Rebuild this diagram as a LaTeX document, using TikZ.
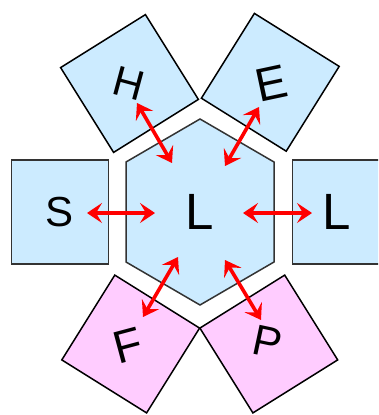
\documentclass[tikz,border=0pt]{standalone}
\usepackage{fontspec}
\setmainfont{Liberation Sans}
\usetikzlibrary{arrows.meta}
\definecolor{lblue}{HTML}{CCEBFF}
\definecolor{lpink}{HTML}{FFCCFF}
\begin{document}
\begin{tikzpicture}[x=1pt,y=-1pt,
  sq/.style={draw=black, line width=1.5pt, minimum width=100pt, minimum height=100pt, inner sep=0pt, outer sep=0pt},
  rb/.style={draw=black!80, line width=1.5pt, fill=lblue, minimum width=97pt, minimum height=104pt, inner sep=0pt, outer sep=0pt},
  lt/.style={inner sep=0pt, text=black},
  link/.style={draw=red, line width=3.6pt, {Stealth[length=15pt,width=20pt,inset=6pt]}-{Stealth[length=15pt,width=20pt,inset=6pt]}}
]
\useasboundingbox (0,0) rectangle (378,415);
\clip (0,0) rectangle (378,415);
% boxes
\node[sq, fill=lblue, rotate=32] (hbox) at (129.5,83.5) {};
\node[sq, fill=lblue, rotate=-32] (ebox) at (270.3,82.3) {};
\node[sq, fill=lpink, rotate=-32] (fbox) at (130.7,344) {};
\node[sq, fill=lpink, rotate=32] (pbox) at (268.8,344) {};
\node[rb] (sbox) at (59.8,212) {};
\node[rb] (rbox) at (341.2,212) {};
% hexagon
\coordinate (h1) at (200,119);
\coordinate (h2) at (274,162);
\coordinate (h3) at (274,262);
\coordinate (h4) at (200,305);
\coordinate (h5) at (126,262);
\coordinate (h6) at (126,162);
\draw[draw=black!80, line width=1.5pt, fill=lblue] (h1) -- (h2) -- (h3) -- (h4) -- (h5) -- (h6) -- cycle;
% letters
\node[lt, rotate=-15, font=\fontsize{42}{46}\selectfont] (th) at (129,83) {H};
\node[lt, rotate=12, font=\fontsize{47}{51}\selectfont] (te) at (271,83) {E};
\node[lt, font=\fontsize{42}{46}\selectfont] (ts) at (60,212) {S};
\node[lt, font=\fontsize{51}{55}\selectfont] (tl) at (200,212) {L};
\node[lt, font=\fontsize{51}{55}\selectfont] (tr) at (337,212) {L};
\node[lt, rotate=15, font=\fontsize{46}{50}\selectfont] (tf) at (128,346) {F};
\node[lt, rotate=-12, font=\fontsize{43}{47}\selectfont] (tp) at (268,342) {P};
% arrow ends
\coordinate (ah1) at (137,103); \coordinate (ah2) at (172,163);
\coordinate (ae1) at (259,107); \coordinate (ae2) at (225,166);
\coordinate (as1) at (87,213);  \coordinate (as2) at (155,213);
\coordinate (ar1) at (243,213); \coordinate (ar2) at (312,213);
\coordinate (af1) at (178,257); \coordinate (af2) at (143,317);
\coordinate (ap1) at (225,260); \coordinate (ap2) at (261,320);
\draw[link] (ah1) -- (ah2);
\draw[link] (ae1) -- (ae2);
\draw[link] (as1) -- (as2);
\draw[link] (ar1) -- (ar2);
\draw[link] (af1) -- (af2);
\draw[link] (ap1) -- (ap2);
\end{tikzpicture}
\end{document}
